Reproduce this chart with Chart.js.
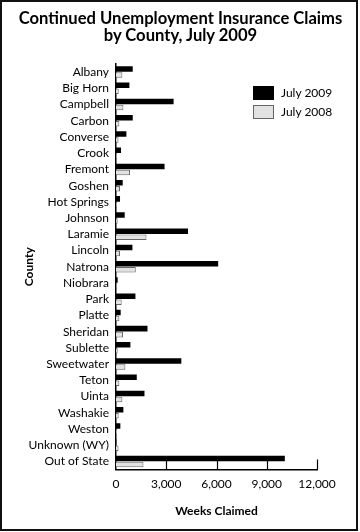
<!DOCTYPE html>
<html>
<head>
<meta charset="utf-8">
<script src="https://cdn.jsdelivr.net/npm/chart.js@4"></script>
<style>
  html, body { margin: 0; padding: 0; background: #fff; }
  #wrap { position: relative; width: 360px; height: 532px; overflow: hidden; }
  #c { position: absolute; left: 0; top: 0; }
  #frame { position: absolute; left: 0; top: 0; width: 358px; height: 531px; box-sizing: border-box; border: 2px solid #111; pointer-events: none; }
  #title { position: absolute; left: 0; top: 10px; width: 361px; text-align: center; font: bold 16.6px Lato, sans-serif; line-height: 17px; color: #000; }
  #legend { position: absolute; left: 253px; top: 83px; font: 12px Lato, sans-serif; color: #000; }
  .item { display: flex; align-items: center; height: 19px; }
  .sw { width: 21px; height: 14px; box-sizing: border-box; margin-right: 7px; }
</style>
</head>
<body>
<div id="wrap">
  <canvas id="c" width="360" height="532"></canvas>
  <div id="title"></div>
  <div id="legend"></div>
  <div id="frame"></div>
</div>
<script>
const titleLines = ["Continued Unemployment Insurance Claims", "by County, July 2009"];
const counties = ["Albany","Big Horn","Campbell","Carbon","Converse","Crook","Fremont","Goshen","Hot Springs","Johnson","Laramie","Lincoln","Natrona","Niobrara","Park","Platte","Sheridan","Sublette","Sweetwater","Teton","Uinta","Washakie","Weston","Unknown (WY)","Out of State"];
const july2009 = [1000, 800, 3440, 1000, 620, 300, 2900, 400, 240, 520, 4300, 980, 6100, 100, 1160, 280, 1880, 860, 3900, 1240, 1700, 440, 260, 20, 10080];
const july2008 = [380, 160, 440, 200, 150, 50, 840, 240, 50, 100, 1820, 240, 1180, 30, 340, 200, 420, 100, 560, 200, 380, 160, 60, 150, 1640];
const seriesLabels = ["July 2009", "July 2008"];
const xTicks = [0, 3000, 6000, 9000, 12000];
const xTitle = "Weeks Claimed";
const yTitle = "County";

const fontFamily = "Lato, 'Open Sans', sans-serif";

document.getElementById('title').innerHTML = titleLines.map(t => '<div>' + t + '</div>').join('');

const inwardTicks = {
  id: 'inwardTicks',
  afterDatasetsDraw(chart) {
    const x = chart.scales.x;
    const ctx = chart.ctx;
    ctx.save();
    ctx.strokeStyle = '#000';
    ctx.lineWidth = 1.2;
    xTicks.forEach(v => {
      if (v === 0) return;
      const px = Math.round(x.getPixelForValue(v)) + 0.5;
      ctx.beginPath();
      ctx.moveTo(px, x.top);
      ctx.lineTo(px, x.top - 10);
      ctx.stroke();
    });
    ctx.restore();
  }
};

const chart = new Chart(document.getElementById('c'), {
  type: 'bar',
  data: {
    labels: counties,
    datasets: [
      { label: seriesLabels[0], data: july2009, backgroundColor: '#000', borderColor: '#000', borderWidth: 0 },
      { label: seriesLabels[1], data: july2008, backgroundColor: '#e2e2e2', borderColor: '#666', borderWidth: 1, borderSkipped: 'left' }
    ]
  },
  options: {
    indexAxis: 'y',
    responsive: false,
    animation: false,
    events: [],
    categoryPercentage: 0.74,
    barPercentage: 0.92,
    layout: { padding: { left: 0, right: 43, top: 64, bottom: 0 } },
    plugins: {
      legend: { display: false },
      tooltip: { enabled: false },
      title: { display: false }
    },
    scales: {
      y: {
        type: 'category',
        afterFit(s) { s.width = 116; },
        grid: { display: false, drawTicks: false },
        border: { display: true, color: '#000', width: 1.5 },
        ticks: { color: '#000', font: { family: fontFamily, size: 12 }, padding: 7, autoSkip: false },
        title: { display: true, text: yTitle, color: '#000', font: { family: fontFamily, size: 12, weight: 'bold' }, padding: { top: 22, bottom: 0 } }
      },
      x: {
        type: 'linear',
        min: 0, max: 12000,
        afterFit(s) { s.height = 62.5; },
        afterBuildTicks(s) { s.ticks = xTicks.map(v => ({ value: v })); },
        grid: { display: false, drawTicks: false },
        border: { display: true, color: '#000', width: 1.5 },
        ticks: { color: '#000', font: { family: fontFamily, size: 12 }, padding: 7,
          callback: v => v.toLocaleString('en-US') },
        title: { display: true, text: xTitle, color: '#000', font: { family: fontFamily, size: 12, weight: 'bold' }, padding: { top: 0, bottom: 14 } }
      }
    }
  },
  plugins: [inwardTicks]
});

const leg = document.getElementById('legend');
chart.data.datasets.forEach(ds => {
  const it = document.createElement('div');
  it.className = 'item';
  const sw = document.createElement('span');
  sw.className = 'sw';
  sw.style.background = ds.backgroundColor;
  sw.style.border = '1px solid ' + (ds.borderWidth ? ds.borderColor : ds.backgroundColor);
  const tx = document.createElement('span');
  tx.textContent = ds.label;
  it.appendChild(sw); it.appendChild(tx);
  leg.appendChild(it);
});
</script>
</body>
</html>
